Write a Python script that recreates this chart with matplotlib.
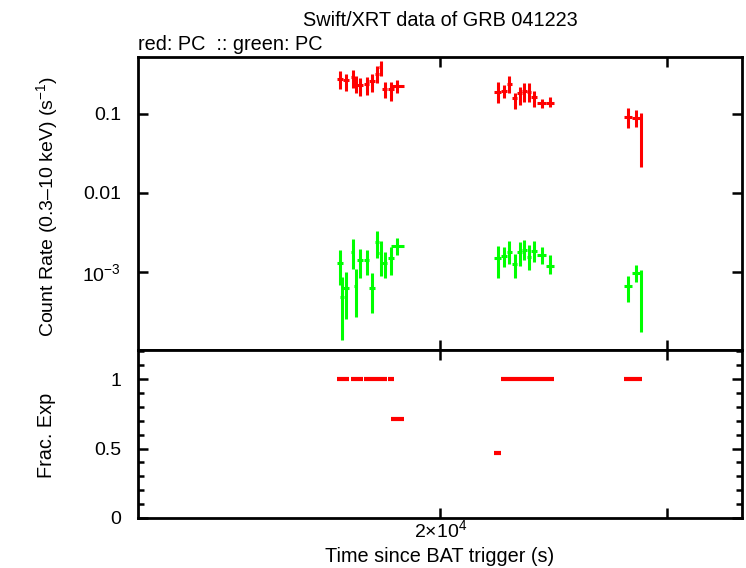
import numpy as np
import matplotlib
matplotlib.use("Agg")
import matplotlib.pyplot as plt
from matplotlib.ticker import FixedLocator, NullFormatter, FixedFormatter

plt.rcParams['font.family'] = ['Liberation Sans', 'DejaVu Sans']
plt.rcParams['mathtext.fontset'] = 'custom'
plt.rcParams['mathtext.rm'] = 'Liberation Sans'
plt.rcParams['mathtext.it'] = 'Liberation Sans'

# ---------------- data ----------------
# red: PC
red_t = [16730, 16910, 17110, 17200, 17340, 17540, 17710, 17870, 17980, 18110, 18320, 18520,
         22160, 22410, 22630, 22850, 23050, 23250, 23440, 23660, 23970, 24330,
         27980, 28390, 28640]
red_dt = [90, 91, 46, 46, 93, 78, 95, 64, 48, 81, 90, 215,
          139, 110, 111, 102, 103, 93, 94, 127, 182, 185,
          200, 203, 51]
red_rate = [0.277, 0.269, 0.294, 0.247, 0.233, 0.240, 0.262, 0.321, 0.394, 0.207, 0.207, 0.226,
            0.190, 0.195, 0.240, 0.159, 0.184, 0.195, 0.190, 0.164, 0.138, 0.138,
            0.0916, 0.0890, 0.051]
red_lo = [0.207, 0.195, 0.213, 0.184, 0.169, 0.174, 0.190, 0.247, 0.303, 0.159, 0.146, 0.184,
          0.138, 0.159, 0.184, 0.116, 0.130, 0.142, 0.142, 0.123, 0.119, 0.123,
          0.0665, 0.0685, 0.0213]
red_hi = [0.350, 0.321, 0.361, 0.303, 0.286, 0.294, 0.321, 0.405, 0.469, 0.254, 0.254, 0.269,
          0.254, 0.233, 0.303, 0.184, 0.220, 0.247, 0.247, 0.195, 0.155, 0.164,
          0.119, 0.112, 0.103]
red_frac = [1, 1, 1, 1, 1, 1, 1, 1, 1, 1, 1, 0.71,
            0.47, 1, 1, 1, 1, 1, 1, 1, 1, 1,
            1, 1, 1]

# green: PC
grn_t = [16730, 16790, 16910, 17110, 17200, 17340, 17540, 17710, 17870, 17980, 18110, 18320, 18520,
         22160, 22410, 22630, 22850, 23050, 23250, 23440, 23660, 23970, 24330,
         27980, 28390, 28640]
grn_dt = [90, 60, 91, 46, 46, 93, 78, 95, 64, 48, 81, 90, 215,
          139, 110, 111, 102, 103, 93, 94, 127, 182, 185,
          200, 203, 51]
grn_rate = [1.30e-3, 0.483e-3, 0.627e-3, 1.79e-3, 0.665e-3, 1.42e-3, 1.42e-3, 0.627e-3, 2.40e-3,
            1.74e-3, 1.30e-3, 1.50e-3, 2.13e-3,
            1.50e-3, 1.59e-3, 1.79e-3, 1.26e-3, 1.79e-3, 1.90e-3, 1.55e-3, 1.84e-3, 1.64e-3, 1.20e-3,
            0.665e-3, 0.971e-3, 0.609e-3]
grn_lo = [0.684e-3, 0.138e-3, 0.254e-3, 1.09e-3, 0.269e-3, 0.840e-3, 0.916e-3, 0.303e-3, 1.50e-3,
          0.890e-3, 0.840e-3, 0.916e-3, 1.64e-3,
          0.840e-3, 1.157e-3, 1.26e-3, 0.840e-3, 1.19e-3, 1.42e-3, 1.06e-3, 1.34e-3, 1.26e-3, 0.943e-3,
          0.417e-3, 0.747e-3, 0.174e-3]
grn_hi = [1.90e-3, 0.864e-3, 1.00e-3, 2.62e-3, 1.09e-3, 1.95e-3, 1.90e-3, 0.971e-3, 3.30e-3,
          2.47e-3, 1.79e-3, 2.07e-3, 2.69e-3,
          2.13e-3, 2.07e-3, 2.47e-3, 1.69e-3, 2.40e-3, 2.54e-3, 2.20e-3, 2.47e-3, 2.07e-3, 1.64e-3,
          0.890e-3, 1.226e-3, 1.06e-3]

title = "Swift/XRT data of GRB 041223"
subtitle = "red: PC  :: green: PC"
ytick_vals = [1e-3, 0.01, 0.1]
ytick_labels = ["10$^{-3}$", "0.01", "0.1"]
xtick_vals = [2e4, 3e4]
xtick_labels = ["2\u00d710$^{4}$", ""]

# ---------------- figure ----------------
W, H = 746, 568
fig = plt.figure(figsize=(W / 100, H / 100), dpi=100)

def fa(l, t, r, b):
    return [l / W, 1 - b / H, (r - l) / W, (b - t) / H]

ax1 = fig.add_axes(fa(138, 57, 742, 350))
ax2 = fig.add_axes(fa(138, 350, 742, 518), sharex=ax1)

RED = '#ff0000'
GRN = '#00ff00'

def ebar(ax, t, dt, v, lo, hi, color):
    t = np.array(t, float); v = np.array(v, float)
    lo = np.array(lo, float); hi = np.array(hi, float)
    ax.errorbar(t, v, xerr=np.array(dt, float), yerr=[v - lo, hi - v],
                fmt='none', ecolor=color, elinewidth=2.2, capsize=0)

ebar(ax1, red_t, red_dt, red_rate, red_lo, red_hi, RED)
ebar(ax1, grn_t, grn_dt, grn_rate, grn_lo, grn_hi, GRN)

ax2.errorbar(np.array(red_t, float), np.array(red_frac, float), xerr=np.array(red_dt, float),
             fmt='none', ecolor=RED, elinewidth=3.0, capsize=0)

ax1.set_xscale('log')
ax1.set_yscale('log')
ax1.set_xlim(11660, 34290)
ax1.set_ylim(1.03e-4, 0.526)
ax2.set_ylim(0, 1.21)

for ax in (ax1, ax2):
    for s in ax.spines.values():
        s.set_linewidth(2.0)
    ax.xaxis.set_major_locator(FixedLocator(xtick_vals))
    ax.xaxis.set_minor_locator(FixedLocator([]))
    ax.tick_params(which='both', direction='in', top=True, right=True, width=1.8,
                   labelsize=14, colors='black')
    ax.tick_params(which='major', length=7)
    ax.tick_params(which='minor', length=4)

ax1.xaxis.set_major_formatter(NullFormatter())
ax2.xaxis.set_major_formatter(FixedFormatter(xtick_labels))

ax1.yaxis.set_major_locator(FixedLocator(ytick_vals))
ax1.yaxis.set_major_formatter(FixedFormatter(ytick_labels))
ax1.yaxis.set_minor_locator(FixedLocator([]))

ax2.yaxis.set_major_locator(FixedLocator([0, 0.5, 1]))
ax2.yaxis.set_major_formatter(FixedFormatter(["0", "0.5", "1"]))
ax2.yaxis.set_minor_locator(FixedLocator(np.arange(0.1, 1.21, 0.1)))

ax1.tick_params(axis='y', pad=12)
ax2.tick_params(axis='y', pad=12)
ax2.tick_params(axis='x', pad=1)

fs = 14.3
fig.text(440 / W, 1 - 20 / H, title, ha='center', va='center', fontsize=fs)
fig.text(138 / W, 1 - 44 / H, subtitle, ha='left', va='center', fontsize=fs)
fig.text(47 / W, 1 - 207 / H, "Count Rate (0.3\u201310 keV) (s$^{-1}$)", rotation=90,
         ha='center', va='center', fontsize=14)
fig.text(47 / W, 1 - 435 / H, "Frac. Exp", rotation=90, ha='center', va='center', fontsize=fs)
fig.text(440 / W, 1 - 557 / H, "Time since BAT trigger (s)", ha='center', va='center', fontsize=fs)

fig.savefig("out.png", dpi=100)
